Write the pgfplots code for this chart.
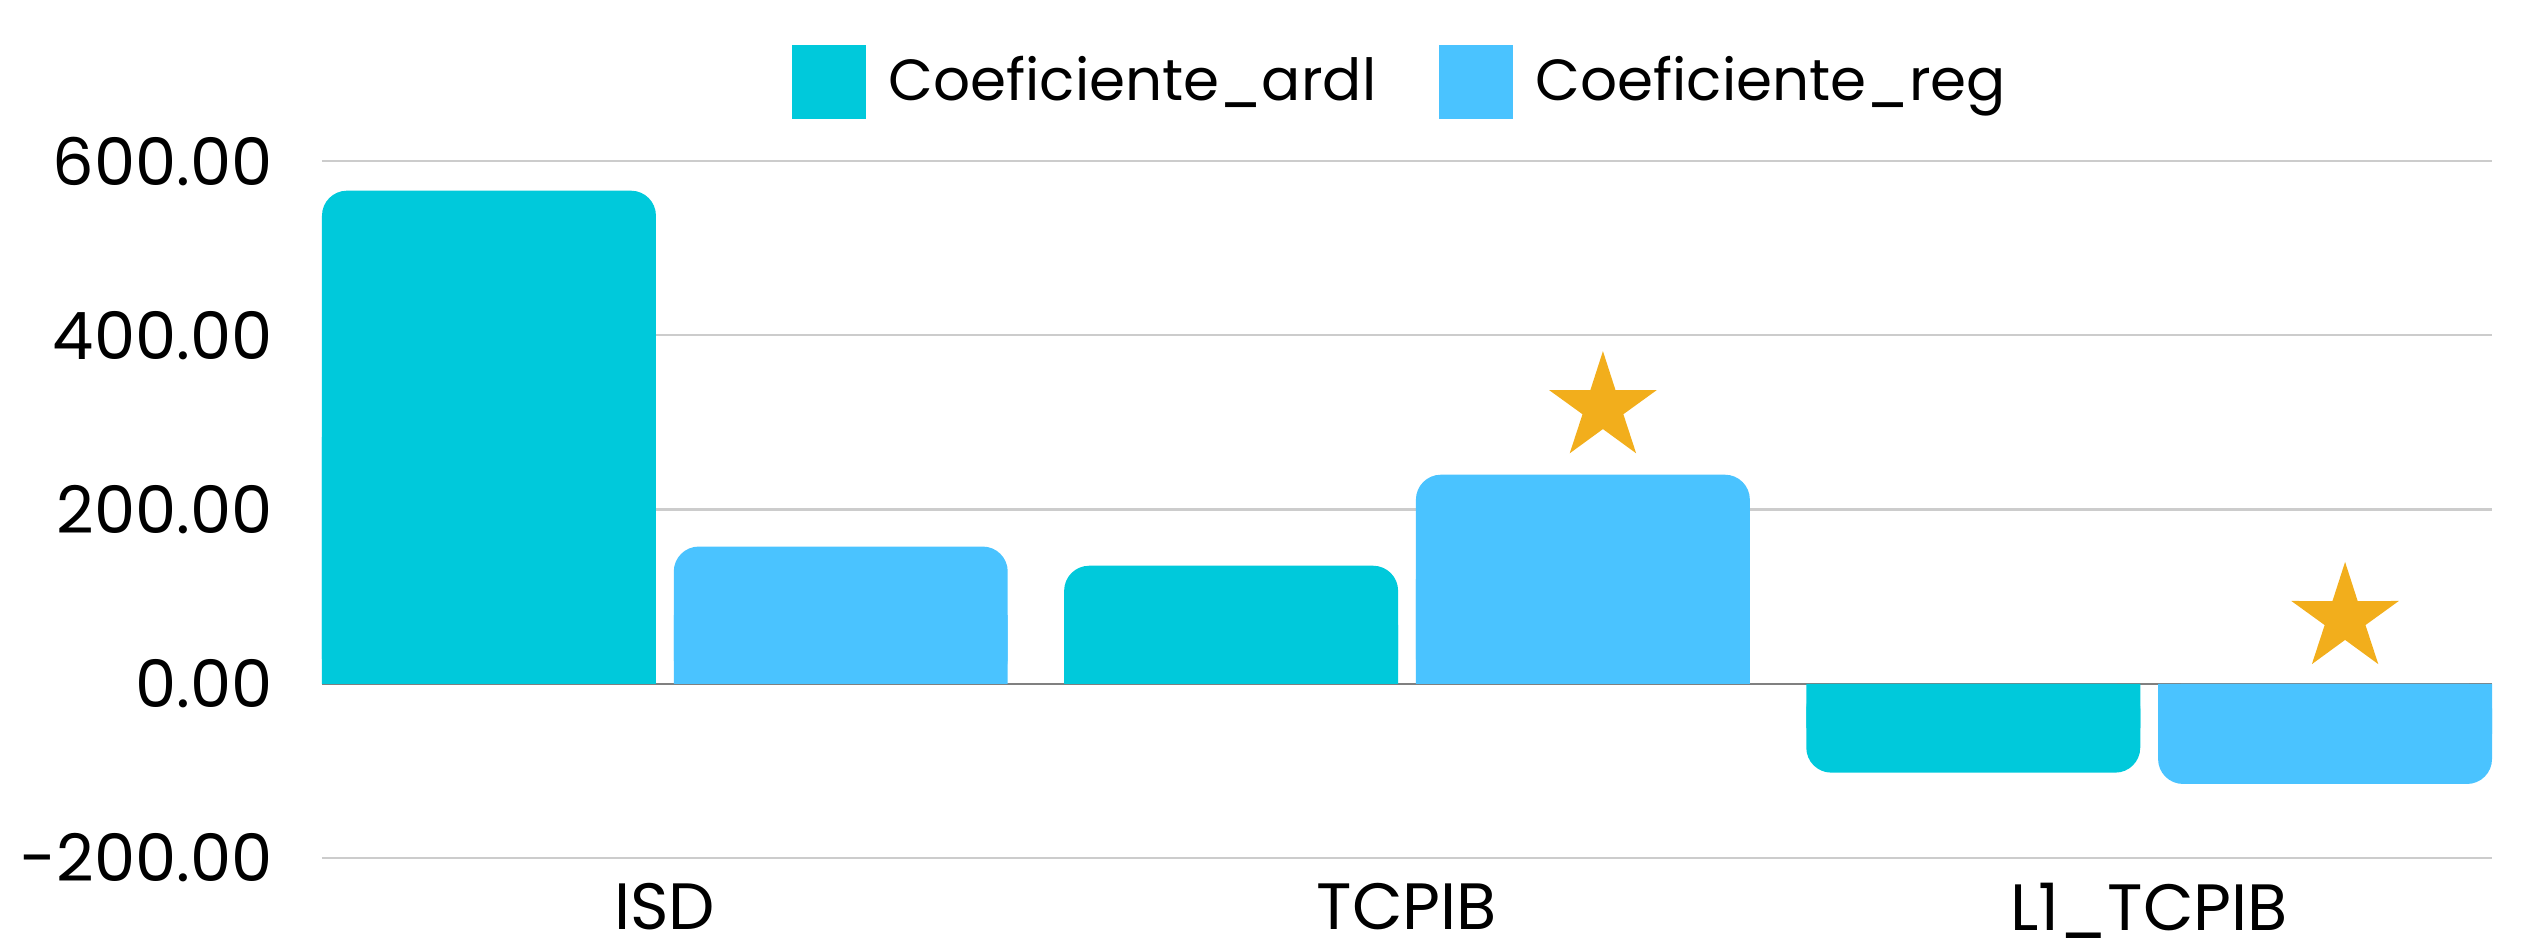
\documentclass[border=0pt]{standalone}
\usepackage{fontspec}
\setmainfont{Poppins}
\usepackage{pgfplots}
\usepackage{pgfplotstable}
\pgfplotsset{compat=1.18}
\definecolor{cArdl}{RGB}{0,201,219}
\definecolor{cReg}{RGB}{74,195,255}
\definecolor{cStar}{RGB}{242,174,28}
\pgfdeclareplotmark{fstar}{%
  \pgfpathmoveto{\pgfpointpolar{90}{\pgfplotmarksize}}%
  \pgfpathlineto{\pgfpointpolar{126}{0.38\pgfplotmarksize}}%
  \pgfpathlineto{\pgfpointpolar{162}{\pgfplotmarksize}}%
  \pgfpathlineto{\pgfpointpolar{198}{0.38\pgfplotmarksize}}%
  \pgfpathlineto{\pgfpointpolar{234}{\pgfplotmarksize}}%
  \pgfpathlineto{\pgfpointpolar{270}{0.38\pgfplotmarksize}}%
  \pgfpathlineto{\pgfpointpolar{306}{\pgfplotmarksize}}%
  \pgfpathlineto{\pgfpointpolar{342}{0.38\pgfplotmarksize}}%
  \pgfpathlineto{\pgfpointpolar{18}{\pgfplotmarksize}}%
  \pgfpathlineto{\pgfpointpolar{54}{0.38\pgfplotmarksize}}%
  \pgfpathclose\pgfusepathqfill}
\pgfplotstableread{
x v
0 566
1 135.5
2 -102
}\ardl
\pgfplotstableread{
x v
0 157.5
1 240
2 -115
}\reg
\pgfplotstableread{
x v
1.264 317
2.264 75
}\stars
\begin{document}
\begin{tikzpicture}
\begin{axis}[
  scale only axis,
  width=434pt, height=139.4pt,
  at={(0,0)}, anchor=south west,
  xmin=-0.462, xmax=2.462,
  ymin=-200, ymax=600,
  ytick={-200,0,200,400,600},
  xtick={0,1,2},
  xticklabels={ISD, TCPIB, L1\_TCPIB},
  axis line style={draw=none},
  major tick length=0pt,
  ymajorgrids,
  grid style={draw=black!20, line width=0.45pt},
  extra y ticks={0},
  extra y tick labels={},
  extra y tick style={grid style={draw=black!50, line width=0.5pt}},
  /pgf/number format/.cd, fixed, fixed zerofill, precision=2, assume math mode=true,
  /pgfplots/.cd,
  tick label style={font=\fontsize{13.1}{15}\selectfont},
  yticklabel style={xshift=-6.4pt},
  xticklabel style={yshift=-1.5pt},
  legend style={at={(0.5,1.0)}, anchor=center, yshift=15.8pt, xshift=-0.6pt, draw=none, fill=none,
    legend columns=2, font=\fontsize{11.6}{14}\selectfont,
    /tikz/every even column/.append style={column sep=10.6pt}},
  legend cell align=left,
]
\addplot[ybar, bar width=0.450, bar shift=-0.237, fill=cArdl, draw=none, rounded corners=5pt,
  legend image code/.code={\fill[cArdl, sharp corners] (0pt,-7.4pt) rectangle (14.8pt,7.4pt); \path (17.3pt,0pt);}]
  table[x=x,y=v]{\ardl};
\addlegendentry{Coeficiente\_ardl}
\addplot[ybar, bar width=0.450, bar shift=0.237, fill=cReg, draw=none, rounded corners=5pt,
  legend image code/.code={\fill[cReg, sharp corners] (0pt,-7.4pt) rectangle (14.8pt,7.4pt); \path (17.3pt,0pt);}]
  table[x=x,y=v]{\reg};
\addlegendentry{Coeficiente\_reg}
\addplot[ybar, bar width=0.450, bar shift=-0.237, fill=cArdl, draw=none, forget plot]
  table[x=x,y expr=\thisrow{v}/2]{\ardl};
\addplot[ybar, bar width=0.450, bar shift=0.237, fill=cReg, draw=none, forget plot]
  table[x=x,y expr=\thisrow{v}/2]{\reg};
\addplot[only marks, mark=fstar, mark size=11.3pt, color=cStar, forget plot]
  table[x=x,y=v]{\stars};
\end{axis}
\pgfresetboundingbox
\useasboundingbox (-64.4pt,-16.8pt) rectangle (440.4pt,171.6pt);
\end{tikzpicture}
\end{document}
